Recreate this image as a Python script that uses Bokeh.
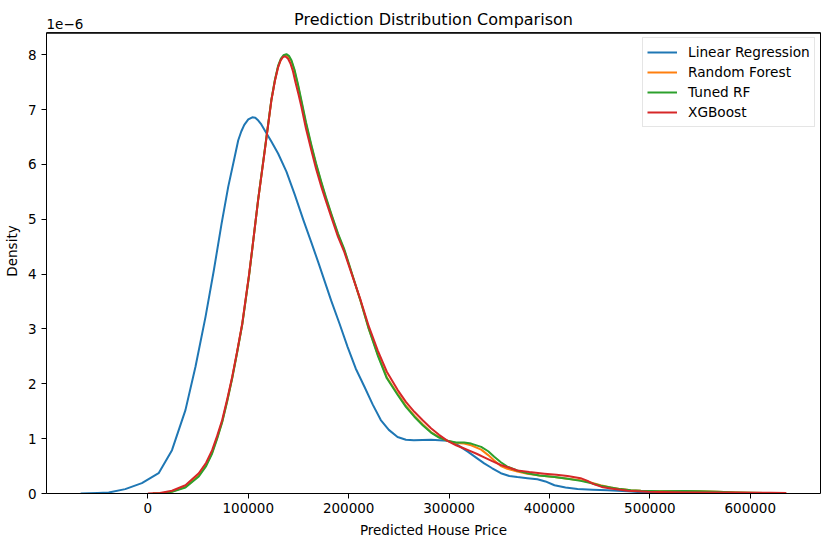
from bokeh.plotting import figure
from bokeh.models import FixedTicker, NumeralTickFormatter, Label, Range1d, LinearAxis, Span
from bokeh.embed import file_html
from bokeh.resources import INLINE

# ---------------- data (density values in units of 1e-6) ----------------
lr_x = [-67000, -50000, -39000, -22600, -6000, 10700, 24000, 37400, 47400, 57400,
        65700, 73400, 80000, 86000, 90000, 93000, 96000, 100000, 104000, 107000,
        110000, 113000, 116500, 123000, 129700, 138000, 146300, 155000, 162800, 170000,
        182500, 191000, 199000, 207000, 215600, 224000, 232000, 240000, 248700, 257000,
        265000, 282000, 298500, 308000, 319000, 328000, 335000, 343000, 351600, 360000,
        368000, 378000, 388000, 396000, 405000, 416000, 428000, 443000, 458000, 478000,
        498000, 520000, 560000]
lr_d = [0.00, 0.01, 0.02, 0.08, 0.19, 0.37, 0.79, 1.52, 2.31, 3.22,
        4.07, 4.92, 5.59, 6.10, 6.44, 6.60, 6.72, 6.82, 6.86, 6.85,
        6.80, 6.73, 6.62, 6.42, 6.20, 5.87, 5.45, 4.98, 4.58, 4.20,
        3.52, 3.09, 2.67, 2.28, 1.95, 1.62, 1.34, 1.16, 1.03, 0.98,
        0.97, 0.98, 0.96, 0.89, 0.76, 0.64, 0.55, 0.46, 0.37, 0.32,
        0.30, 0.28, 0.26, 0.22, 0.15, 0.11, 0.08, 0.07, 0.06, 0.04,
        0.015, 0.005, 0.002]

xgb_x = [0, 12000, 24000, 37400, 50700, 58000, 64000, 69000, 74000, 79000,
         84000, 89000, 94000, 100700, 104000, 109800, 116500, 123000, 126500, 129700,
         132000, 134500, 137000, 139500, 142000, 144500, 147000, 150000, 152900, 157500,
         162800, 167500, 172800, 177400, 182700, 189400, 195700, 204000, 212000, 220000,
         228900, 238000, 248700, 257000, 265400, 274000, 282000, 290000, 298500, 307000,
         315000, 319000, 328000, 335000, 343000, 351600, 360000, 368000, 380000, 395000,
         407000, 418000, 431000, 438000, 444000, 452000, 461000, 478000, 498000, 525000,
         551000, 580000, 601000, 620000, 636000]
xgb_d = [0.00, 0.01, 0.05, 0.15, 0.37, 0.56, 0.79, 1.05, 1.34, 1.72,
         2.13, 2.60, 3.10, 3.98, 4.47, 5.35, 6.26, 7.17, 7.52, 7.77,
         7.89, 7.96, 7.97, 7.93, 7.84, 7.70, 7.50, 7.28, 7.05, 6.65,
         6.26, 5.92, 5.59, 5.33, 5.04, 4.68, 4.40, 3.95, 3.52, 3.05,
         2.61, 2.22, 1.89, 1.67, 1.49, 1.33, 1.19, 1.07, 0.96, 0.88,
         0.82, 0.79, 0.72, 0.66, 0.59, 0.52, 0.47, 0.42, 0.39, 0.36,
         0.34, 0.32, 0.28, 0.23, 0.17, 0.12, 0.09, 0.05, 0.03, 0.025,
         0.02, 0.018, 0.015, 0.012, 0.008]

trf_x = [5000, 15000, 24000, 37400, 50700, 58000, 64000, 69000, 74000, 79000,
         84000, 89000, 94000, 100700, 104000, 109800, 116500, 123000, 126500, 129700,
         132500, 135000, 138000, 140500, 143000, 146000, 149500, 152900, 157500, 162800,
         167500, 172800, 177400, 182700, 189400, 195700, 204000, 212000, 220000, 228900,
         238000, 248700, 257000, 265400, 274000, 282000, 290000, 298500, 307000, 315000,
         322000, 332000, 339000, 345000, 351600, 358000, 368000, 378000, 390000, 405000,
         418000, 431000, 441000, 451000, 461000, 471000, 481000, 491000, 510000, 535000,
         550000, 568000, 585000, 600000, 615000, 625000]
trf_d = [0.00, 0.005, 0.03, 0.11, 0.31, 0.50, 0.73, 1.00, 1.30, 1.68,
         2.10, 2.58, 3.08, 3.96, 4.46, 5.36, 6.28, 7.18, 7.54, 7.80,
         7.93, 7.99, 8.01, 7.98, 7.90, 7.73, 7.46, 7.17, 6.77, 6.36,
         6.02, 5.68, 5.40, 5.10, 4.74, 4.45, 3.97, 3.50, 3.00, 2.52,
         2.10, 1.80, 1.58, 1.40, 1.24, 1.11, 1.02, 0.96, 0.93, 0.93,
         0.91, 0.85, 0.77, 0.67, 0.57, 0.49, 0.42, 0.37, 0.33, 0.30,
         0.27, 0.23, 0.19, 0.14, 0.11, 0.08, 0.06, 0.05, 0.04, 0.045,
         0.04, 0.03, 0.02, 0.015, 0.008, 0.004]

rf_x = trf_x
rf_d = [0.00, 0.006, 0.035, 0.12, 0.33, 0.52, 0.75, 1.02, 1.31, 1.69,
        2.11, 2.59, 3.09, 3.97, 4.46, 5.35, 6.27, 7.17, 7.53, 7.78,
        7.91, 7.97, 7.99, 7.96, 7.88, 7.71, 7.44, 7.14, 6.74, 6.33,
        6.00, 5.66, 5.38, 5.08, 4.72, 4.43, 3.96, 3.50, 3.01, 2.54,
        2.12, 1.82, 1.60, 1.42, 1.26, 1.12, 1.03, 0.96, 0.92, 0.91,
        0.88, 0.80, 0.70, 0.60, 0.50, 0.45, 0.40, 0.36, 0.33, 0.30,
        0.27, 0.24, 0.20, 0.15, 0.11, 0.08, 0.06, 0.05, 0.04, 0.045,
        0.04, 0.03, 0.02, 0.015, 0.008, 0.004]

series_names = ["Linear Regression", "Random Forest", "Tuned RF", "XGBoost"]
series_colors = ["#1f77b4", "#ff7f0e", "#2ca02c", "#d62728"]
series_x = [lr_x, rf_x, trf_x, xgb_x]
series_d = [lr_d, rf_d, trf_d, xgb_d]

title_text = "Prediction Distribution Comparison"
x_label = "Predicted House Price"
y_label = "Density"
scale_text = "1e\u22126"

x_ticks = [0, 100000, 200000, 300000, 400000, 500000, 600000]
y_ticks = [0, 1, 2, 3, 4, 5, 6, 7, 8]
# axes box (the matplotlib-style spines)
x_lo, x_hi = -101000, 670000
y_lo, y_hi = 0, 8.4
# the frame also holds the headroom above the axes box, where the title and
# the scale-factor text sit
y_top = 8.843

FONT = "DejaVu Sans"

p = figure(frame_width=774, frame_height=485,
           x_range=Range1d(x_lo, x_hi), y_range=Range1d(y_lo, y_top),
           min_border_left=41, min_border_right=2, min_border_top=8, min_border_bottom=45,
           output_backend="svg", toolbar_location=None, title_location=None)

for nm, col, xs, ds in zip(series_names, series_colors, series_x, series_d):
    p.line(xs, ds, line_color=col, line_width=2, line_join="round", legend_label=nm)

# top spine
p.segment(x0=[x_lo], y0=[y_hi], x1=[x_hi], y1=[y_hi], line_color="black", line_width=1.3)
p.add_layout(Span(location=y_hi, dimension="width", line_color="black", line_width=1.3))

p.xgrid.visible = False
p.ygrid.visible = False
p.outline_line_color = None

for ax in (p.xaxis[0], p.yaxis[0]):
    ax.axis_line_color = "black"
    ax.major_tick_line_color = "black"
    ax.major_tick_out = 5
    ax.major_tick_in = 0
    ax.minor_tick_line_color = None
    ax.major_label_text_font = FONT
    ax.major_label_text_font_size = "13.5px"
    ax.major_label_text_color = "black"
    ax.axis_label_text_font = FONT
    ax.axis_label_text_font_size = "13.5px"
    ax.axis_label_text_font_style = "normal"
    ax.axis_label_text_color = "black"

p.xaxis.ticker = FixedTicker(ticks=x_ticks)
p.xaxis.formatter = NumeralTickFormatter(format="0")
p.yaxis.ticker = FixedTicker(ticks=y_ticks)
p.yaxis.bounds = (y_lo, y_hi)          # left spine stops at the top of the axes box
p.xaxis.axis_label = x_label
p.yaxis.axis_label = y_label
p.xaxis.major_label_standoff = 4
p.yaxis.major_label_standoff = 5
p.xaxis.axis_label_standoff = 6
p.yaxis.axis_label_standoff = 5


def spine_axis(**kw):
    a = LinearAxis(ticker=FixedTicker(ticks=[]), axis_line_color="black", axis_line_width=1,
                   major_tick_line_color=None, minor_tick_line_color=None,
                   major_tick_out=0, major_tick_in=0, major_label_standoff=0,
                   major_label_text_alpha=0, **kw)
    return a


# right spine (drawn as a bare axis line)
p.add_layout(spine_axis(bounds=(y_lo, y_hi)), "right")

p.add_layout(Label(x=(x_lo + x_hi) / 2, y=y_hi, y_offset=13, text=title_text,
                   text_align="center", text_baseline="alphabetic",
                   text_font=FONT, text_font_size="16px", text_color="black"))
p.add_layout(Label(x=x_lo, y=y_hi, y_offset=9, text=scale_text,
                   text_align="left", text_baseline="alphabetic",
                   text_font=FONT, text_font_size="13.5px", text_color="black"))

lg = p.legend[0]
lg.location = (596, 366)
lg.margin = 0
lg.padding = 4
lg.spacing = 0
lg.glyph_width = 30
lg.glyph_height = 20
lg.label_height = 20
lg.label_standoff = 11
lg.label_text_font = FONT
lg.label_text_font_size = "13.7px"
lg.label_text_color = "black"
lg.border_line_color = "#cccccc"
lg.border_line_width = 1
lg.background_fill_alpha = 0.8

open("out.html", "w").write(file_html(p, INLINE))
